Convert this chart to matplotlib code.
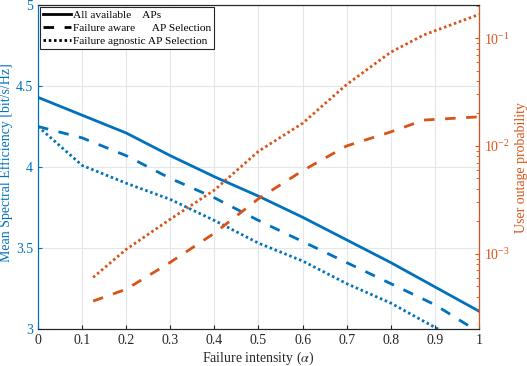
import numpy as np
import matplotlib
matplotlib.use('Agg')
import matplotlib.pyplot as plt
from matplotlib.lines import Line2D
from matplotlib.ticker import LogLocator, LogFormatterSciNotation, NullFormatter

plt.rcParams['font.family'] = ['Liberation Serif', 'DejaVu Serif']
plt.rcParams['mathtext.fontset'] = 'stix'

# Spectral efficiency (left axis)
alpha = [0.0, 0.1, 0.2, 0.3, 0.4, 0.5, 0.6, 0.7, 0.8, 0.9, 1.0]
se_all = [4.43, 4.32, 4.21, 4.07, 3.94, 3.82, 3.69, 3.55, 3.41, 3.26, 3.11]
se_aware = [4.25, 4.18, 4.07, 3.93, 3.81, 3.67, 3.54, 3.41, 3.28, 3.15, 2.98]
se_agnostic = [4.25, 4.01, 3.90, 3.80, 3.67, 3.53, 3.42, 3.28, 3.16, 3.01, 2.87]

# User outage probability (right axis, log10 values)
alpha_out = [0.125, 0.2, 0.3, 0.4, 0.5, 0.6, 0.7, 0.8, 0.875, 1.0]
log_out_aware = [-3.44, -3.33, -3.08, -2.81, -2.49, -2.23, -2.00, -1.87, -1.76, -1.73]
log_out_agnostic = [-3.22, -2.96, -2.68, -2.41, -2.05, -1.79, -1.43, -1.13, -0.97, -0.78]
out_aware = 10 ** np.array(log_out_aware)
out_agnostic = 10 ** np.array(log_out_agnostic)

labels = ['All available    APs', 'Failure aware      AP Selection', 'Failure agnostic AP Selection']

blue = '#0072BD'
orange = '#D95319'
lw = 2.0
dashed = (0, (3.8, 3.8))
dotted = (0, (0.9, 1.0))

fig = plt.figure(figsize=(5.27, 3.66), dpi=100)
ax = fig.add_axes([0.0721, 0.1011, 0.8368, 0.8852])

ax.plot(alpha, se_all, color=blue, lw=lw, ls='-')
ax.plot(alpha, se_aware, color=blue, lw=lw, ls=dashed)
ax.plot(alpha, se_agnostic, color=blue, lw=lw, ls=dotted)
ax.set_xlim(0, 1)
ax.set_ylim(3, 5)
ax.set_xticks(np.arange(0, 1.01, 0.1))
ax.set_xticklabels(['0', '0.1', '0.2', '0.3', '0.4', '0.5', '0.6', '0.7', '0.8', '0.9', '1'])
ax.set_yticks([3, 3.5, 4, 4.5, 5])
ax.set_yticklabels(['3', '3.5', '4', '4.5', '5'])
ax.grid(True, color='#e3e6ea', lw=0.8)
ax.set_axisbelow(True)
ax.tick_params(direction='in', labelsize=10, length=3)
ax.tick_params(axis='y', colors=blue)
ax.tick_params(axis='x', colors='#262626')
ax.spines['left'].set_color(blue)
for s in ['top', 'bottom']:
    ax.spines[s].set_color('#262626')
ax.set_xlabel(r'Failure intensity ($\alpha$)', fontsize=10, color='#262626', labelpad=2)
ax.set_ylabel('Mean Spectral Efficiency [bit/s/Hz]', fontsize=10, color=blue)
ax.yaxis.set_label_coords(-0.056, 0.514)

ax2 = ax.twinx()
ax2.plot(alpha_out, out_aware, color=orange, lw=lw, ls=dashed)
ax2.plot(alpha_out, out_agnostic, color=orange, lw=lw, ls=dotted)
ax2.set_yscale('log')
ax2.set_ylim(2.0e-4, 0.203)
ax2.yaxis.set_major_locator(LogLocator(base=10, numticks=10))
ax2.yaxis.set_major_formatter(LogFormatterSciNotation())
ax2.yaxis.set_minor_locator(LogLocator(base=10, subs=np.arange(2, 10), numticks=10))
ax2.yaxis.set_minor_formatter(NullFormatter())
ax2.tick_params(which='both', direction='in', colors=orange, labelsize=10)
ax2.tick_params(which='major', length=3)
ax2.tick_params(which='minor', length=2)
ax2.spines['right'].set_color(orange)
ax2.spines['left'].set_color(blue)
ax2.spines['top'].set_color('#262626')
ax2.spines['bottom'].set_color('#262626')
ax2.set_ylabel('User outage probability', fontsize=10, color=orange, labelpad=4)

handles = [Line2D([], [], color='black', lw=lw, ls='-'),
           Line2D([], [], color='black', lw=lw, ls=dashed),
           Line2D([], [], color='black', lw=lw, ls=dotted)]
leg = ax2.legend(handles, labels, loc='upper left', fontsize=8.2, frameon=True,
                 fancybox=False, edgecolor='#262626', framealpha=1,
                 handlelength=2.5, handletextpad=0.2, borderpad=0.25,
                 labelspacing=0.28, borderaxespad=0.15)
leg.get_frame().set_linewidth(0.8)

fig.savefig('out.png', dpi=100)
